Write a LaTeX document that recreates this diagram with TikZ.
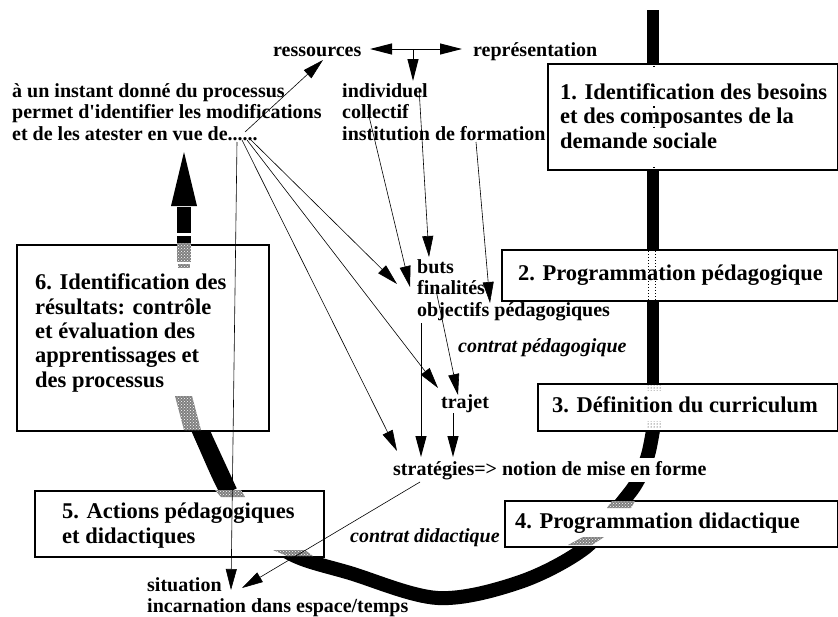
\documentclass[tikz,border=0pt]{standalone}
\usepackage{fontspec}
\newfontfamily\lab{Liberation Serif}[UprightFont={* Bold}, ItalicFont={* Bold Italic}, BoldFont={* Bold}, BoldItalicFont={* Bold Italic}]
\usetikzlibrary{arrows.meta,patterns}
\begin{document}
\begin{tikzpicture}[x=1pt,y=-1pt,
  lbl/.style={font=\lab\fontsize{20}{21.5}\selectfont, inner sep=0pt, anchor=base west, align=left},
  ctr/.style={font=\lab\itshape\fontsize{20}{21.5}\selectfont, inner sep=0pt, anchor=base west},
  boxtxt/.style={font=\lab\fontsize{22.5}{24.3}\selectfont, inner sep=0pt, anchor=base west, align=left},
  stage/.style={draw, line width=1.5pt, fill=white, anchor=north west, inner sep=0pt},
  conn/.style={line width=0.6pt, -{Triangle[length=21pt,width=11pt]}},
  tconn/.style={line width=1pt, -{Triangle[length=22pt,width=11pt]}},
  band/.style={line width=14pt},
  hatch/.style={fill=black!50, postaction={pattern=crosshatch dots, pattern color=white}},
]
\fill[white] (0,0) rectangle (838,616);
\useasboundingbox (0,0) rectangle (838,616);

% thick cycle band
\draw[line width=12.5pt] (653,10) -- (653,426);
\draw[band] plot[smooth, tension=0.55] coordinates {(654,424) (648,455) (637,482) (620,505) (585,548) (520,582) (438,598) (350,573) (293,555) (250,524) (226,490) (203,440) (184,396)};
\draw[line width=17pt] (229,492) -- (205,440) -- (186,396);

% stage boxes
\node[stage, minimum width=290pt, minimum height=106pt] (b1) at (547,63) {};
\node[stage, minimum width=336pt, minimum height=51pt] (b2) at (501,249) {};
\node[stage, minimum width=300pt, minimum height=47pt] (b3) at (537,383) {};
\node[stage, minimum width=333pt, minimum height=46pt] (b4) at (504,500) {};
\node[stage, minimum width=289pt, minimum height=66pt] (b5) at (34,490) {};
\node[stage, minimum width=252pt, minimum height=186pt] (b6) at (16,244) {};

% band seen through boxes
\draw[line width=1.2pt, dash pattern=on 1.2pt off 19pt] (654,66) -- (654,169);
\draw[line width=1pt, dotted] (648,251) -- (648,300);
\draw[line width=1pt, dotted] (655,251) -- (655,300);
\fill[pattern=dots] (647,384) rectangle (662,390);
\fill[pattern=dots] (647,421) rectangle (662,428);
\path[hatch] (612,501) -- (635,501) -- (631,508) -- (607,508) -- cycle;
\path[hatch] (583,537) -- (604,537) -- (592,545) -- (568,545) -- cycle;
\path[hatch] (273,550) -- (305,550) -- (313,556) -- (287,556) -- cycle;
\path[hatch] (215,490) -- (241,490) -- (245,497) -- (221,497) -- cycle;
\path[hatch] (175,396) -- (192,396) -- (201,430) -- (184,430) -- cycle;

% big upward arrow
\fill (177,207) rectangle (191,233);
\fill (177,236) rectangle (191,243);
\path[hatch] (177,243) rectangle (191,262);
\path[hatch] (178,264) rectangle (190,268);
\fill (171,206) -- (197,206) -- (184,152) -- cycle;

% texts (multi-line nodes anchored at the baseline of their last line)
\node[lbl] (res) at (273,56) {ressources};
\node[lbl] (rep) at (473,56) {représentation};
\node[lbl] (inst) at (12,140) {à un instant donné du processus\\permet d'identifier les modifications\\et de les atester en vue de......};
\node[lbl] (ind) at (342,140) {individuel\\collectif\\institution de formation};
\node[boxtxt] (t1) at (560,148) {1. Identification des besoins\\et des composantes de la\\demande sociale};
\node[boxtxt] (t2) at (518,280) {2. Programmation pédagogique};
\node[boxtxt] (t3) at (552,412) {3. Définition du curriculum};
\node[boxtxt] (t4) at (515,528) {4. Programmation didactique};
\node[boxtxt] (t5) at (62,543) {5. Actions pédagogiques\\et didactiques};
\node[boxtxt] (t6) at (35,387) {6. Identification des\\résultats: contrôle\\et évaluation des\\apprentissages et\\des processus};
\node[lbl] (buts) at (417,316) {buts\\finalités\\objectifs pédagogiques};
\node[ctr] (cped) at (458,352) {contrat pédagogique};
\node[lbl] (traj) at (441,408) {trajet};
\node[lbl, fill=white, inner ysep=3pt] (strat) at (393,475) {stratégies=> notion de mise en forme};
\node[ctr] (cdid) at (350,542) {contrat didactique};
\node[lbl, font=\lab\fontsize{20}{20.5}\selectfont] (sit) at (147,612) {situation\\incarnation dans espace/temps};

% T arrow at top
\coordinate (tmid) at (413,49);
\coordinate (resT) at (370,49);
\coordinate (repT) at (462,49);
\coordinate (indT) at (413,81);
\draw[tconn] (tmid) -- (resT);
\draw[tconn] (tmid) -- (repT);
\draw[tconn] (tmid) -- (indT);

% connector end points
\coordinate (s0) at (245,132);
\coordinate (s1) at (237,142);
\coordinate (s2) at (251,140);
\coordinate (s3) at (247,140);
\coordinate (s4) at (242,140);
\coordinate (resA) at (323,60);
\coordinate (sitA) at (231,590);
\coordinate (butsA) at (397,284);
\coordinate (trajA) at (438,388);
\coordinate (stratA) at (397,451);
\coordinate (indS) at (419,88);
\coordinate (butsB) at (429,257);
\coordinate (colS) at (368,112);
\coordinate (butsC) at (410,287);
\coordinate (forS) at (476,142);
\coordinate (butsD) at (490,303);
\coordinate (butsS) at (436,290);
\coordinate (trajB) at (458,395);
\coordinate (objS) at (421,323);
\coordinate (stratB) at (421,457);
\coordinate (trajS) at (453,413);
\coordinate (stratC) at (453,457);
\coordinate (stratS) at (420,482);
\coordinate (sitB) at (242,588);

\draw[conn] (s0) -- (resA);
\draw[conn] (s1) -- (sitA);
\draw[conn] (s2) -- (butsA);
\draw[conn] (s3) -- (trajA);
\draw[conn] (s4) -- (stratA);
\draw[conn] (indS) -- (butsB);
\draw[conn] (colS) -- (butsC);
\draw[conn] (forS) -- (butsD);
\draw[conn] (butsS) -- (trajB);
\draw[conn, line width=1pt] (objS) -- (stratB);
\draw[conn, line width=1pt] (trajS) -- (stratC);
\draw[conn] (stratS) -- (sitB);
\end{tikzpicture}
\end{document}
